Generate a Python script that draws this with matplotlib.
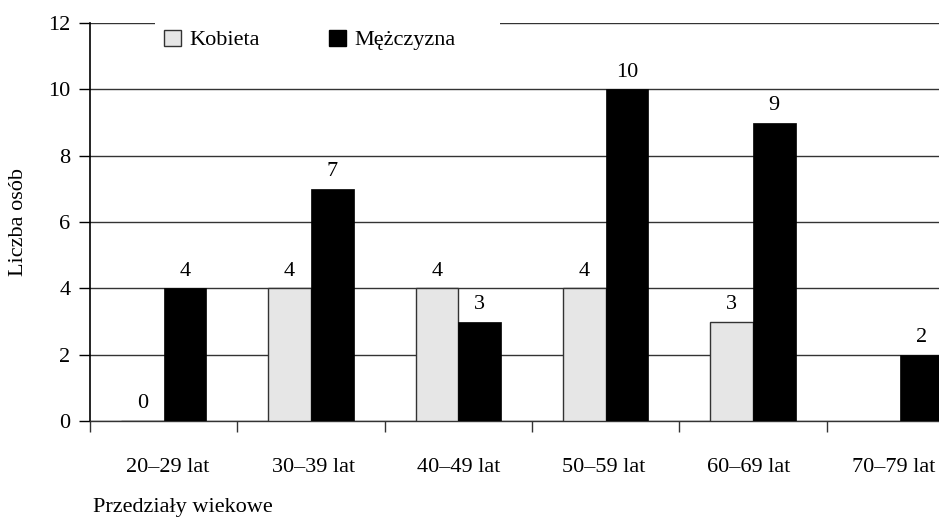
import numpy as np
import matplotlib
matplotlib.use("Agg")
import matplotlib.pyplot as plt
from matplotlib.patches import Rectangle, Patch

# Age groups and counts of people per sex
categories = ["20–29 lat", "30–39 lat", "40–49 lat", "50–59 lat", "60–69 lat", "70–79 lat"]
kobieta = [0, 4, 4, 4, 3, np.nan]
mezczyzna = [4, 7, 3, 10, 9, 2]
y_ticks = [0, 2, 4, 6, 8, 10, 12]

plt.rcParams["font.family"] = ["Liberation Serif", "DejaVu Serif"]
FS = 16

fig = plt.figure(figsize=(9.39, 5.18), dpi=100)
ax = fig.add_axes([90 / 939, 1 - 421 / 518, 849 / 939, 398 / 518])

x = np.arange(len(categories))
w = 0.29
gray = "#e6e6e6"
ax.bar(x - w / 2, kobieta, width=w, color=gray, edgecolor="#333333",
       linewidth=1.0, zorder=3)
ax.bar(x + w / 2, mezczyzna, width=w, color="black", edgecolor="black",
       linewidth=0.5, zorder=3)

for xi, v in zip(x - w / 2, kobieta):
    if not np.isnan(v):
        ax.annotate(f"{v:g}", (xi, v), xytext=(0, 9), textcoords="offset points",
                    ha="center", va="baseline", fontsize=FS)
for xi, v in zip(x + w / 2, mezczyzna):
    ax.annotate(f"{v:g}", (xi, v), xytext=(0, 9), textcoords="offset points",
                ha="center", va="baseline", fontsize=FS)

ax.set_ylim(0, 12)
ax.set_xlim(-0.5, -0.5 + 849 / 147.3)
ax.set_yticks(y_ticks)
ax.yaxis.grid(True, color="#333333", linewidth=1.0, zorder=0)
ax.set_axisbelow(True)

# ticks at group boundaries, labels near group centres (slightly tighter spacing)
ax.set_xticks(np.arange(len(categories)) - 0.5)
ax.set_xticklabels([])
ax.set_xticks(0.03 + x * 0.9857, minor=True)
ax.set_xticklabels(categories, minor=True)
ax.tick_params(axis="x", which="major", direction="out", length=8, width=1.0, color="#333333")
ax.tick_params(axis="x", which="minor", length=0, pad=27, labelsize=FS)
ax.tick_params(axis="y", direction="out", length=8, width=1.0, pad=6, labelsize=FS)

for s in ("top", "right"):
    ax.spines[s].set_visible(False)
ax.spines["left"].set_linewidth(1.2)
ax.spines["bottom"].set_color("#333333")
ax.spines["bottom"].set_linewidth(1.0)

# white backing behind the legend
ax.add_patch(Rectangle(((155 - 90) / 849, 0.975), (500 - 155) / 849, 0.05,
                       transform=ax.transAxes, facecolor="white", edgecolor="none",
                       clip_on=False, zorder=2))

handles = [Patch(facecolor=gray, edgecolor="#333333", linewidth=1.0, label="Kobieta"),
           Patch(facecolor="black", edgecolor="black", label="Mężczyzna")]
leg = ax.legend(handles=handles, ncol=2, loc="center left",
                bbox_to_anchor=((164 - 90) / 849, (421 - 40) / 398),
                frameon=False, fontsize=FS, borderpad=0, borderaxespad=0,
                handlelength=0.75, handleheight=0.75, handletextpad=0.4,
                columnspacing=3.1)
leg.set_zorder(5)

fig.text(19 / 939, 1 - 222 / 518, "Liczba osób", rotation=90,
         ha="center", va="center", fontsize=FS)
fig.text(93 / 939, 1 - 512 / 518, "Przedziały wiekowe", ha="left",
         va="baseline", fontsize=FS)

fig.savefig("out.png", dpi=100)
